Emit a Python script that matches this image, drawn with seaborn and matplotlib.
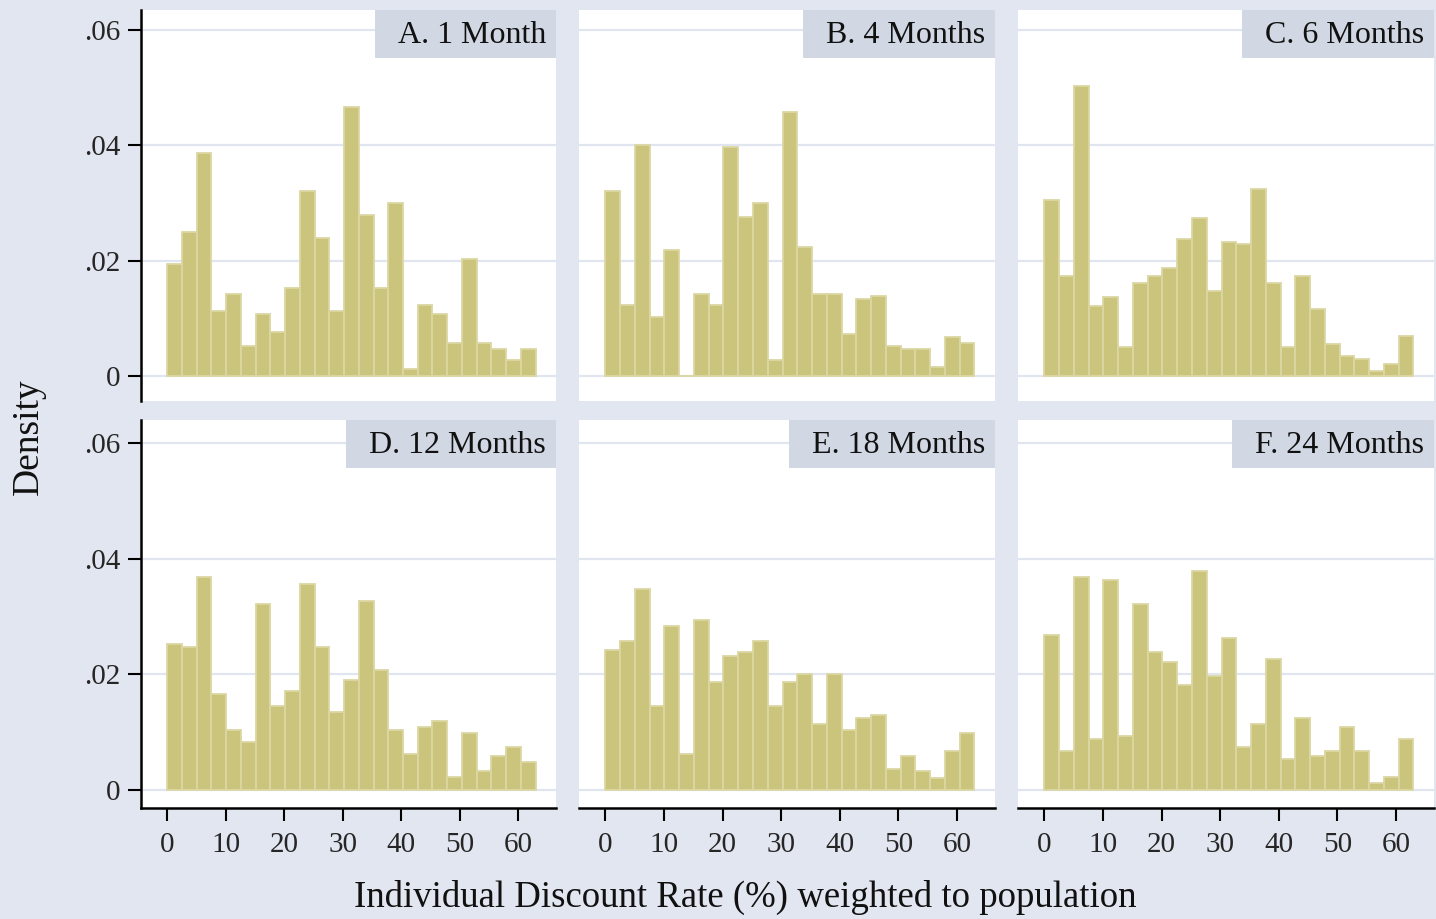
"""
Histograms of individual discount rates by horizon (6 panels, Stata-like look).
Bar heights read off the original figure; bins are 25 equal bins on 0-63.
"""

import matplotlib
matplotlib.use("Agg")
import matplotlib.pyplot as plt
import matplotlib.patches as mpatches
import matplotlib.transforms as mtrans
import numpy as np
import pandas as pd
import seaborn as sns

# ── Data ──────────────────────────────────────────────────────────────────────

BIN_RANGE = (0, 63)
N_BINS = 25

PANEL_TITLES = ["A. 1 Month", "B. 4 Months", "C. 6 Months",
                "D. 12 Months", "E. 18 Months", "F. 24 Months"]

DENS_1M = [0.0194, 0.0250, 0.0386, 0.0113, 0.0143, 0.0052, 0.0108, 0.0077, 0.0153,
           0.0321, 0.0240, 0.0113, 0.0467, 0.0280, 0.0153, 0.0300, 0.0012, 0.0123,
           0.0108, 0.0057, 0.0203, 0.0057, 0.0047, 0.0027, 0.0047]
DENS_4M = [0.0321, 0.0123, 0.0401, 0.0103, 0.0218, 0.0, 0.0143, 0.0123, 0.0397,
           0.0275, 0.0300, 0.0027, 0.0457, 0.0224, 0.0143, 0.0143, 0.0072, 0.0133,
           0.0138, 0.0052, 0.0047, 0.0047, 0.0016, 0.0067, 0.0057]
DENS_6M = [0.0305, 0.0173, 0.0503, 0.0122, 0.0137, 0.0050, 0.0162, 0.0173, 0.0187,
           0.0238, 0.0274, 0.0147, 0.0233, 0.0229, 0.0325, 0.0162, 0.0050, 0.0173,
           0.0117, 0.0056, 0.0035, 0.0030, 0.0009, 0.0020, 0.0070]
DENS_12M = [0.0253, 0.0248, 0.0368, 0.0166, 0.0104, 0.0083, 0.0322, 0.0145, 0.0171,
            0.0357, 0.0248, 0.0135, 0.0191, 0.0327, 0.0207, 0.0104, 0.0063, 0.0109,
            0.0119, 0.0022, 0.0099, 0.0033, 0.0059, 0.0074, 0.0048]
DENS_18M = [0.0242, 0.0258, 0.0348, 0.0145, 0.0283, 0.0063, 0.0294, 0.0186, 0.0232,
            0.0238, 0.0258, 0.0145, 0.0186, 0.0201, 0.0115, 0.0201, 0.0104, 0.0125,
            0.0130, 0.0037, 0.0058, 0.0033, 0.0021, 0.0068, 0.0099]
DENS_24M = [0.0268, 0.0068, 0.0368, 0.0088, 0.0363, 0.0094, 0.0322, 0.0238, 0.0222,
            0.0181, 0.0378, 0.0197, 0.0263, 0.0074, 0.0115, 0.0227, 0.0053, 0.0125,
            0.0058, 0.0068, 0.0109, 0.0068, 0.0012, 0.0022, 0.0088]

PANEL_DENSITIES = [DENS_1M, DENS_4M, DENS_6M, DENS_12M, DENS_18M, DENS_24M]

X_TICKS = [0, 10, 20, 30, 40, 50, 60]
Y_TICKS = [0, 0.02, 0.04, 0.06]
Y_TICK_LABELS = ["0", ".02", ".04", ".06"]

X_LABEL = "Individual Discount Rate (%) weighted to population"
Y_LABEL = "Density"

# ── Style ─────────────────────────────────────────────────────────────────────

BG_COLOR = "#e2e6f0"
TITLE_BOX = "#d1d7e3"
GRID_COLOR = "#e1e5ef"
BAR_FILL = "#cbc47d"
BAR_EDGE = "#dcd7a2"
SERIF = ["Liberation Serif", "DejaVu Serif"]

W, H, DPI = 1436, 919, 100

# panel pixel boxes (left, right) / (top, bottom) in figure pixels
COLS_PX = [(141, 556), (579, 995), (1018, 1434)]
ROWS_PX = [(10, 401), (420, 808)]
ROW_YLIM = [(-0.00434, 0.06347), (-0.00311, 0.06398)]
XLIM = (-4.5, 66.5)


def make_axes(fig, col, row):
    x0, x1 = COLS_PX[col]
    y0, y1 = ROWS_PX[row]
    return fig.add_axes([x0 / W, 1 - y1 / H, (x1 - x0) / W, (y1 - y0) / H])


def style_panel(ax, col, row):
    ax.set_facecolor("white")
    ax.set_xlim(*XLIM)
    ax.set_ylim(*ROW_YLIM[row])
    for side in ["top", "right", "left", "bottom"]:
        ax.spines[side].set_visible(False)

    ax.set_yticks(Y_TICKS)
    ax.yaxis.grid(True, color=GRID_COLOR, linewidth=1.6, zorder=0)
    ax.xaxis.grid(False)
    ax.set_axisbelow(True)
    ax.set_xlabel("")
    ax.set_ylabel("")

    if col == 0:
        ax.spines["left"].set_visible(True)
        ax.spines["left"].set_color("black")
        ax.spines["left"].set_linewidth(1.8)
        ax.set_yticklabels(Y_TICK_LABELS, fontsize=21, family=SERIF)
        ax.tick_params(axis="y", left=True, length=9.5, width=1.5, pad=5, color="black")
    else:
        ax.tick_params(axis="y", left=False, labelleft=False)

    if row == 1:
        ax.spines["bottom"].set_visible(True)
        ax.spines["bottom"].set_color("black")
        ax.spines["bottom"].set_linewidth(1.8)
        ax.set_xticks(X_TICKS)
        ax.set_xticklabels([str(t) for t in X_TICKS], fontsize=21, family=SERIF)
        ax.tick_params(axis="x", bottom=True, length=9, width=1.5, pad=8, color="black")
    else:
        ax.set_xticks([])


def add_title_box(fig, ax, title):
    # text right-aligned inside a shaded box glued to the panel's top-right corner
    off = mtrans.ScaledTranslation(-10 / DPI, -33 / DPI, fig.dpi_scale_trans)
    txt = ax.text(1, 1, title, transform=ax.transAxes + off, ha="right", va="baseline",
                  fontsize=23, family=SERIF, color="#111111", zorder=6)
    fig.canvas.draw()
    bb = txt.get_window_extent()
    inv = ax.transAxes.inverted()
    ax_bb = ax.get_window_extent()
    lx, by = inv.transform((bb.x0 - 23, ax_bb.y1 - 48))
    rect = mpatches.Rectangle((lx, by), 1 - lx, 1 - by, transform=ax.transAxes,
                              facecolor=TITLE_BOX, edgecolor="none", zorder=5, clip_on=False)
    ax.add_patch(rect)


def run():
    sns.set_theme(style="white")
    plt.rcParams["font.family"] = SERIF

    fig = plt.figure(figsize=(W / DPI, H / DPI), dpi=DPI, facecolor=BG_COLOR)

    binwidth = (BIN_RANGE[1] - BIN_RANGE[0]) / N_BINS
    for i, (title, dens) in enumerate(zip(PANEL_TITLES, PANEL_DENSITIES)):
        col, row = i % 3, i // 3
        ax = make_axes(fig, col, row)
        centers = BIN_RANGE[0] + binwidth * (np.arange(len(dens)) + 0.5)
        df = pd.DataFrame({"rate": centers, "density": dens})
        sns.histplot(data=df, x="rate", weights="density", binwidth=binwidth,
                     binrange=BIN_RANGE, ax=ax, color=BAR_FILL, alpha=1,
                     edgecolor=BAR_EDGE, linewidth=1.3, zorder=2)
        style_panel(ax, col, row)
        add_title_box(fig, ax, title)

    fig.text(745 / W, 1 - 897 / H, X_LABEL, ha="center", va="center", fontsize=26.5,
             family=SERIF, color="#111111")
    fig.text(29 / W, 1 - 437 / H, Y_LABEL, ha="center", va="center", rotation=90,
             fontsize=27, family=SERIF, color="#111111")

    fig.savefig("out.png", dpi=DPI, facecolor=BG_COLOR)
    plt.close(fig)


if __name__ == "__main__":
    run()
